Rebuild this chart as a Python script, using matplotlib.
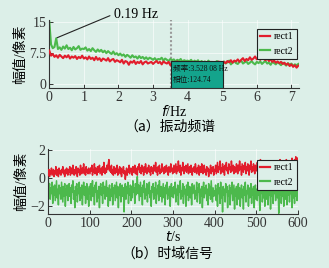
import numpy as np
import matplotlib
matplotlib.use("Agg")
import matplotlib.pyplot as plt
from matplotlib.patches import Rectangle

plt.rcParams['font.family'] = ['Liberation Serif', 'Noto Sans CJK SC', 'DejaVu Sans']

# ---------------- data ----------------
spec_green = [15.0, 9.5, 8.6, 8.9, 11.0, 8.4, 8.8, 8.2, 9.0, 8.5, 9.3, 8.4, 8.7, 8.1, 8.9, 8.3, 8.6, 9.1, 8.2, 8.5, 8.4,
              8.8, 8.0, 8.4, 7.9, 8.6, 8.1, 7.7, 8.3, 7.8, 8.2, 7.6, 8.0, 7.4, 7.9, 7.5, 7.2, 7.8, 7.1, 7.4, 6.9,
              7.3, 6.8, 7.1, 6.5, 7.0, 6.7, 6.3, 6.9, 6.4, 6.6, 6.1, 6.7, 6.2, 6.5, 6.0, 6.4, 5.9, 6.3, 6.1, 5.8,
              6.2, 5.7, 6.0, 5.9, 6.3, 5.6, 6.1, 5.8, 5.5, 6.0, 5.7, 5.9, 5.4, 5.8, 5.6, 6.0, 5.3, 5.7, 5.5, 5.6,
              5.4, 5.8, 5.2, 5.6, 5.3, 5.7, 5.0, 5.5, 5.2, 5.4, 4.9, 5.6, 5.1, 5.3, 4.6, 5.2, 5.5, 4.8, 5.3, 5.0,
              5.4, 4.9, 5.2, 5.6, 4.7, 5.1, 5.5, 5.0, 4.8, 5.3, 5.6, 4.9, 5.2, 5.4, 4.8, 5.1, 5.5, 5.0, 4.7, 5.3,
              5.0, 5.4, 4.8, 5.2, 5.5, 4.9, 5.1, 4.6, 5.3, 5.0, 4.7, 5.2, 4.9, 4.5, 5.1, 4.8, 4.4, 5.0, 4.6, 4.9,
              4.3, 4.7, 4.5, 4.8]
spec_red = [8.0, 6.8, 7.2, 6.5, 6.9, 6.3, 7.0, 6.6, 6.2, 6.8, 6.4, 6.9, 6.1, 6.6, 6.3, 6.7, 6.0, 6.5, 6.2, 6.8, 6.1,
            6.4, 5.9, 6.6, 6.0, 6.3, 5.7, 6.5, 5.8, 6.2, 5.5, 6.1, 5.9, 5.6, 6.2, 5.4, 5.8, 6.0, 5.3, 5.7, 5.5,
            5.2, 5.8, 4.9, 5.5, 5.3, 4.6, 5.4, 5.1, 5.6, 4.8, 5.3, 5.0, 5.5, 4.7, 5.2, 5.4, 4.9, 5.1, 5.3, 4.8,
            5.2, 5.5, 5.0, 5.3, 4.7, 5.4, 5.1, 4.9, 5.3, 4.5, 5.0, 5.2, 4.8, 5.4, 4.6, 5.1, 4.9, 5.3, 4.7, 5.0,
            5.2, 4.8, 5.1, 4.6, 5.3, 4.9, 5.0, 4.4, 5.2, 4.8, 5.1, 4.7, 5.3, 5.0, 4.6, 5.2, 4.9, 5.4, 4.8, 5.1,
            5.3, 5.0, 5.5, 5.2, 5.7, 5.1, 5.6, 5.4, 5.9, 5.3, 5.8, 6.2, 5.5, 6.0, 5.7, 6.4, 5.8, 6.1, 6.6, 5.9,
            6.3, 5.8, 6.5, 6.0, 5.7, 6.2, 5.5, 5.9, 5.3, 5.6, 5.1, 5.4, 5.0, 5.3, 4.8, 5.1, 4.6, 4.9, 4.3, 4.7,
            4.1, 4.5, 3.9, 4.4]

time_red = [0.2, 0.6, 0.1, 0.5, 0.3, 0.7, 0.2, 0.4, 0.6, 0.1, 0.5, 0.3, 0.8, 0.2, 0.6, 0.4, 0.1, 0.7, 0.3, 0.5, 0.2, 0.6, 0.4, 0.8, 0.3, 0.5, 0.1, 0.6, 0.3, 0.7, 0.4, 0.2, 0.6,
            0.4, 0.8, 0.2, 0.5, 0.7, 0.3, 0.9, 0.4, 0.2, 0.6, 0.3, 0.8, 0.5, 0.1, 0.7, 0.4, 0.6, 0.2, 0.9, 0.5, 0.3, 0.7, 0.4, 1.0, 0.3, 0.6, 0.2, 0.8, 0.4, 0.6, 0.3, 0.7, 0.5,
            0.3, 0.7, 0.5, 0.9, 0.2, 0.6, 0.4, 1.0, 0.3, 0.7, 0.5, 0.2, 0.8, 0.4, 0.6, 0.9, 0.3, 0.5, 0.7, 0.2, 0.8, 0.4, 1.1, 0.5, 0.3, 0.7, 0.4, 0.9, 0.6, 1.0, 1.3, 0.5, 0.8,
            0.4, 0.9, 0.3, 0.6, 0.2, 0.8, 0.5, 0.3, 0.7, 0.4, 0.9, 0.2, 0.6, 0.5, 0.8, 0.3, 0.7, 0.1, 0.6, 0.4, 0.8, 0.3, 0.5, -0.1, 0.4, 0.7, 0.2, 0.6, 0.4, 0.9, 0.3, 0.5, 0.7,
            0.5, 0.2, 0.8, 0.4, 0.6, 0.9, 0.3, 0.7, 0.5, 0.2, 0.8, 0.6, 1.0, 0.4, 0.7, 0.3, 0.9, 0.5, 0.6, 0.2, 0.8, 0.4, 1.0, 0.6, 0.3, 0.7, 0.5, 0.9, 0.4, 0.6, 0.2, 0.8, 0.5,
            0.7, 0.3, 0.9, 0.5, 0.6, 1.1, 0.4, 0.7, 0.2, 0.8, 0.5, 0.9, 0.3, 0.6, 0.4, 1.0, 0.5, 0.7, 0.3, 0.8, 0.6, 0.4, 0.9, 0.5, 0.7, 0.2, 0.8, 0.6, 0.4, 1.0, 0.5, 0.7, 0.3,
            0.6, 0.9, 0.4, 0.7, 1.0, 0.3, 0.8, 0.5, 1.2, 0.6, 0.4, 0.9, 0.2, 0.7, 0.5, 1.1, 0.6, 0.3, 0.8, 0.5, 0.9, 0.4, 0.7, 1.0, 0.3, 0.6, 0.8, 0.4, 0.9, 0.5, 0.2, 0.7, 0.5,
            0.8, 0.4, 1.0, 0.6, 0.3, 0.7, 0.5, 0.9, 0.2, 0.6, 0.8, 0.4, 1.0, 0.5, 0.3, 0.7, 0.9, 0.4, 0.6, 0.2, 0.8, 0.5, 0.7, 0.1, 0.6, 0.4, 0.9, 0.3, 0.7, 0.5, 0.8, 0.2, 0.6,
            0.5, 0.9, 0.3, 0.7, 1.1, 0.4, 0.8, 0.6, 1.2, 0.3, 0.7, 0.5, 1.0, 0.4, 0.8, 0.2, 0.9, 0.6, 1.1, 0.5, 0.7, 0.3, 1.0, 0.6, 0.8, 0.4, 1.2, 0.7, 0.5, 0.9, 0.3, 0.8, 0.6,
            0.4, 1.0, 0.7, 0.3, 0.9, 0.5, 1.2, 0.6, 0.8, 0.2, 1.0, 0.7, 0.4, 0.9, 0.6, 1.1, 0.3, 0.8, 0.5, 1.0, 0.7, 0.2, 0.9, 0.6, 1.2, 0.4, 0.8, 0.5, 1.0, 0.6, 0.3, 0.9, 0.7,
            0.5, 1.1, 0.8, 0.3, 1.0, 0.6, 1.3, 0.7, 0.4, 0.9, 0.6, 1.2, 0.5, 0.8, 0.3, 1.0, 0.7, 1.2, 0.5, 0.9, 0.6, 0.2, 1.1, 0.7, 0.5, 1.0, 0.8, 0.4, 1.2, 0.6, 0.9, 0.5, 1.1,
            0.7, 0.4, 1.0, 0.8, 1.3, 0.6, 0.9, 0.5, 1.2, 0.7, 0.3, 1.1, 0.8, 0.6, 1.3, 0.5, 1.0, 0.7, 1.2, 0.4, 0.9, 1.1, 0.6, 1.4, 0.8, 1.0, 0.5, 1.3, 0.9, 1.5, 0.7, 1.2, 1.4]
time_green = [-0.1, -0.9, -0.4, -1.5, -0.7, -1.1, -0.3, -1.8, -0.6, -1.2, -0.5, -1.6, -0.9, -0.2, -1.4, -0.8, -1.9, -0.5, -1.1, -0.7, -1.5, -0.3, -1.0, -1.7, -0.6, -1.3, -0.4, -2.0, -0.8, -1.2, -0.5, -1.6, -0.9,
              -0.4, -1.3, -0.7, -1.8, -0.5, -1.0, -0.2, -1.5, -0.9, -2.1, -0.6, -1.2, -0.4, -1.7, -0.8, -1.1, -0.3, -1.6, -0.7, -1.4, -0.5, -1.9, -0.9, -0.3, -1.2, -0.6, -1.8, -1.0, -0.4, -1.5, -0.8, -2.0, -0.6,
              -1.1, -0.4, -1.6, -0.8, -0.2, -1.3, -0.7, -1.9, -0.5, -1.0, -0.3, -1.7, -0.9, -1.4, -0.6, -2.1, -0.8, -0.4, -1.2, -0.7, -1.8, -0.3, -1.1, -0.6, -1.5, -0.9, -0.2, -1.3, -0.7, -2.0, -1.0, -0.5, -1.6,
              -0.8, -1.3, -0.4, -1.9, -0.7, -1.1, -0.5, -1.6, -0.9, -0.3, -1.4, -0.6, -2.1, -0.8, -1.2, -0.4, -1.7, -1.0, -0.5, -1.3, -0.7, -2.4, -0.9, -0.4, -1.5, -0.6, -1.1, -0.3, -1.8, -0.8, -1.2, -0.5, -1.6,
              -0.6, -1.4, -0.2, -1.0, -0.7, -1.8, -0.4, -1.2, -0.8, 0.1, -1.1, -0.5, -1.6, -0.9, -0.3, -1.3, -0.7, -1.9, -0.5, -1.0, -0.2, -1.5, -0.8, -1.2, -0.4, -1.7, -0.6, -1.1, -0.3, -1.4, -0.9, -2.0, -0.6,
              -1.0, -0.4, -1.5, -0.7, -1.2, -0.3, -1.8, -0.8, -1.1, -0.5, -1.6, -0.2, -1.3, -0.9, -0.6, -1.7, -1.0, -0.4, -1.4, -0.7, -1.9, -0.5, -1.1, -0.3, -1.5, -0.8, -1.2, -0.6, -2.0, -0.9, -0.4, -1.3, -0.7,
              -1.4, -0.6, -1.1, -0.3, -1.7, -0.8, -1.2, -0.5, -1.9, -0.7, -1.0, -0.2, -1.5, -0.9, -1.3, -0.4, -1.8, -0.6, -1.1, -0.8, -2.0, -0.5, -1.2, -0.3, -1.6, -0.9, -0.6, -1.4, -0.7, -1.9, -0.4, -1.1, -0.8,
              -0.5, -1.5, -0.9, -1.2, -0.3, -1.7, -0.7, -1.0, -0.4, -1.8, -0.8, -1.3, -0.6, -2.1, -0.9, -0.3, -1.4, -0.7, -1.1, -0.5, -1.6, -0.8, -1.9, -0.4, -1.2, -0.6, -1.5, -0.2, -1.0, -1.7, -0.7, -1.3, -0.9,
              -1.2, -0.5, -1.6, -0.8, -2.0, -0.4, -1.1, -0.7, -1.8, -0.3, -1.4, -0.9, -2.4, -0.6, -1.2, -0.8, -1.7, -0.4, -1.0, -0.6, -2.1, -0.9, -1.3, -0.5, -1.9, -0.7, -1.1, -0.3, -1.6, -1.0, -0.5, -2.2, -0.8,
              -1.3, -0.6, -1.9, -0.9, -0.4, -1.5, -0.7, -2.0, -1.1, -0.5, -1.4, -0.8, -2.2, -0.6, -1.2, -0.3, -1.7, -0.9, -1.1, -0.5, -2.0, -0.7, -1.4, -1.0, -0.4, -1.8, -0.8, -1.2, -0.6, -2.1, -0.9, -0.5, -1.5,
              -0.8, -1.6, -0.4, -1.2, -0.9, -2.3, -0.6, -1.1, -0.3, -1.7, -0.8, -1.4, -0.5, -2.0, -1.0, -0.7, -1.5, -0.4, -1.9, -0.8, -1.2, -0.6, -2.2, -0.9, -1.3, -0.5, -1.8, -0.7, -1.1, -0.3, -1.6, -1.0, -0.6,
              -1.4, -0.7, -2.5, -0.9, -1.2, -0.5, -1.8, -0.8, -1.3, -0.4, -2.0, -1.0, -0.6, -1.5, -0.8, -1.9, -0.5, -1.2, -0.7, -1.7, -0.4, -1.1, -0.9, -2.1, -0.6, -1.4, -0.8, -1.8, -0.5, -1.3, -1.0, -1.6, -0.9]

series_names = ['rect1', 'rect2']
peak_freq = 0.19
peak_amp = 11.0
cursor_freq = 3.528
cursor_text = ['频率:3.528 08 Hz', '相位:124.74']
captions = ['（a）振动频谱', '（b）时域信号']
ylabel = '幅值/像素'

f_green = np.linspace(0, 7.2, len(spec_green))
f_red = np.linspace(0, 7.2, len(spec_red))
t_red = np.linspace(0, 600, len(time_red))
t_green = np.linspace(0, 600, len(time_green))

# ---------------- style ----------------
BG = '#dcefe8'
RED = '#e21d2c'
GREEN = '#4cb94c'
TEAL = '#14a48c'
W, H = 329, 268

fig = plt.figure(figsize=(W / 100, H / 100), dpi=100, facecolor=BG)

def style(ax):
    ax.set_facecolor(BG)
    for s in ['top', 'right']:
        ax.spines[s].set_visible(False)
    for s in ['left', 'bottom']:
        ax.spines[s].set_color('#333333')
        ax.spines[s].set_linewidth(0.8)
    ax.tick_params(direction='in', length=3, width=0.7, labelsize=10, pad=2, colors='#333333')
    ax.grid(True, color='white', lw=0.6, alpha=0.7)
    ax.set_axisbelow(True)

def legend(ax, anchor):
    h, l = ax.get_legend_handles_labels()
    leg = ax.legend([h[1], h[0]], [l[1], l[0]], loc='upper right', bbox_to_anchor=anchor,
                    fontsize=7, facecolor=BG, edgecolor='#222222', framealpha=1, fancybox=False,
                    handlelength=1.0, handletextpad=0.4, borderpad=0.35, labelspacing=0.55,
                    borderaxespad=0)
    leg.get_frame().set_linewidth(0.8)
    leg.set_zorder(20)
    for ln in leg.get_lines():
        ln.set_linewidth(1.6)

# top axes
ax1 = fig.add_axes([49.3 / W, 1 - 88 / H, (299 - 49.3) / W, (88 - 20) / H])
style(ax1)
ax1.axvline(cursor_freq, color='#9a9a9a', lw=1.5, ls=(0, (1, 1)), zorder=1)
ax1.plot(f_green, spec_green, color=GREEN, lw=1.5, label=series_names[1], zorder=2)
ax1.plot(f_red, spec_red, color=RED, lw=1.5, label=series_names[0], zorder=3)
ax1.set_xlim(0, 7.22)
ax1.set_ylim(-1, 15.4)
ax1.set_xticks(range(0, 8))
ax1.set_yticks([0, 7.5, 15])
ax1.set_yticklabels(['0', '7.5', '15'])
ax1.set_xlabel('$\\mathit{f}$/Hz', fontsize=10, labelpad=0)
ax1.set_ylabel(ylabel, fontsize=10, labelpad=2)

rect = Rectangle((3.51, -1), 1.5, 6.5, facecolor=TEAL, edgecolor='#222222', lw=0.8, zorder=5)
ax1.add_patch(rect)
ax1.text(3.58, 3.6, cursor_text[0], fontsize=5.5, va='center', ha='left', color='#111111', zorder=6)
ax1.text(3.58, 0.9, cursor_text[1], fontsize=5.5, va='center', ha='left', color='#111111', zorder=6)

ax1.annotate('0.19 Hz', xy=(peak_freq, peak_amp), xycoords='data',
             xytext=(114 / W, 1 - 14 / H), textcoords='figure fraction',
             fontsize=10, ha='left', va='center',
             arrowprops=dict(arrowstyle='-', color='#222222', lw=0.8, relpos=(0, 0.5), shrinkA=1, shrinkB=1))

legend(ax1, ((297 - 49.3) / (299 - 49.3), 1 - (29 - 20) / 68))

# bottom axes
ax2 = fig.add_axes([48.3 / W, 1 - 214.3 / H, (297.7 - 48.3) / W, (214.3 - 149) / H])
style(ax2)
ax2.plot(t_green, time_green, color=GREEN, lw=1.1, label=series_names[1], zorder=2)
ax2.plot(t_red, time_red, color=RED, lw=1.1, label=series_names[0], zorder=3)
ax2.set_xlim(0, 600)
ax2.set_ylim(-2.57, 2.05)
ax2.set_xticks(range(0, 601, 100))
ax2.set_yticks([-2, 0, 2])
ax2.set_yticklabels(['−2', '0', '2'])
ax2.set_xlabel('$\\mathit{t}$/s', fontsize=10, labelpad=0)
ax2.set_ylabel(ylabel, fontsize=10, labelpad=2)
legend(ax2, (0.997, 1 - (160 - 149) / 65.3))

fig.text(170 / W, 1 - 127 / H, captions[0], fontsize=10, ha='center', va='center',
         family=['Noto Sans CJK SC', 'DejaVu Sans'])
fig.text(167 / W, 1 - 254 / H, captions[1], fontsize=10, ha='center', va='center',
         family=['Noto Sans CJK SC', 'DejaVu Sans'])

fig.savefig('out.png', dpi=100, facecolor=BG)
